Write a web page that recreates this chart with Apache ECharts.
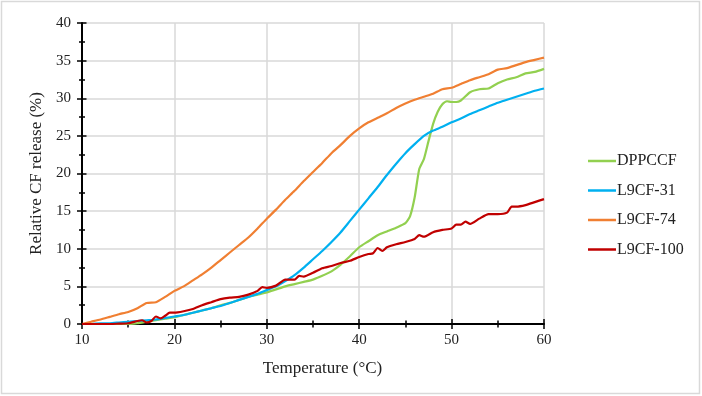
<!DOCTYPE html>
<html lang="en">
<head>
	<meta charset="UTF-8">
	<title>CF release</title>
	<script src="https://cdn.jsdelivr.net/npm/echarts@6/dist/echarts.min.js"></script>
	<style>
		html,body{width:100%;height:100%;margin:0;background:#fff;}
		#chart{width:702px;height:396px;}
	</style>
</head>
<body>
	<div id="chart"></div>
<script>
	// temperature grid shared by L9CF-31 and L9CF-74 (1 °C steps)
	var temps = [10,11,12,13,14,15,16,17,18,19,20,21,22,23,24,25,26,27,28,29,30,31,32,33,34,35,36,37,38,39,40,
		41,42,43,44,45,46,47,48,49,50,51,52,53,54,55,56,57,58,59,60];
	var l9cf74 = [0,0.3,0.6,0.95,1.3,1.6,2.1,2.8,2.9,3.6,4.4,5.0,5.8,6.6,7.5,8.5,9.5,10.5,11.5,12.7,14.0,
		15.2,16.5,17.7,19.0,20.2,21.4,22.7,23.8,25.0,26.0,26.8,27.4,28.0,28.7,29.3,29.8,30.2,30.6,31.2,31.4,
		31.9,32.4,32.8,33.2,33.8,34.0,34.4,34.8,35.1,35.4];
	var l9cf31 = [0,0,0.1,0.1,0.2,0.3,0.4,0.5,0.6,0.8,1.0,1.2,1.5,1.8,2.1,2.4,2.8,3.2,3.6,4.0,4.5,
		5.0,5.7,6.5,7.5,8.6,9.7,10.9,12.2,13.7,15.2,16.7,18.2,19.8,21.3,22.7,23.9,25.0,25.7,26.2,26.8,
		27.3,27.9,28.4,28.9,29.4,29.8,30.2,30.6,31.0,31.3];

	// DPPCCF has a sharp jump near 46 °C, so it is read at finer steps there
	var dppTemps = [10,11,12,13,14,15,16,17,18,19,20,21,22,23,24,25,26,27,28,29,30,31,32,33,34,35,36,37,38,39,40,
		41,42,43,44,45,45.5,46,46.5,47,47.5,48,48.5,49,49.5,50,50.5,51,52,53,54,55,56,57,58,59,60];
	var dppccf = [0,0,0,0,0,0,0.1,0.3,0.5,0.7,0.9,1.2,1.5,1.8,2.1,2.5,2.8,3.2,3.6,3.9,4.2,
		4.6,5.0,5.3,5.6,5.9,6.4,7.0,7.9,9.0,10.2,11.0,11.8,12.3,12.8,13.4,14.3,16.8,20.6,21.9,24.3,
		26.6,28.2,29.2,29.6,29.5,29.5,29.7,30.8,31.2,31.3,32.0,32.5,32.8,33.3,33.5,33.9];

	var l100Temps = [10,11,12,13,14,15,16,16.5,17,17.5,18,18.5,19,19.5,20,21,22,23,24,25,26,27,28,29,29.5,30,
		31,32,33,33.5,34,35,36,37,38,39,40,41,41.5,42,42.5,43,44,45,46,46.5,47,48,49,50,50.5,51,51.5,52,
		53,54,55,56,56.5,57,58,59,60];
	var l9cf100 = [0,0,0,0,0.05,0.1,0.4,0.5,0.2,0.4,1.0,0.75,1.1,1.5,1.5,1.7,2.0,2.5,2.9,3.3,3.5,3.6,3.9,4.4,4.9,4.8,
		5.1,5.9,5.9,6.4,6.3,6.8,7.4,7.7,8.1,8.4,8.9,9.3,9.4,10.1,9.7,10.2,10.6,10.9,11.3,11.8,11.6,12.2,12.5,12.7,13.2,13.2,13.6,13.3,
		14.0,14.6,14.6,14.8,15.6,15.6,15.8,16.2,16.6];

	var seriesNames = ['DPPCCF', 'L9CF-31', 'L9CF-74', 'L9CF-100'];
	var seriesColors = ['#92d050', '#00b0f0', '#f07f32', '#c00000'];

	function pairs(xs, ys) {
		var out = [];
		for (var i = 0; i < xs.length; i++) {
			out.push([xs[i], ys[i]]);
		}
		return out;
	}

	var seriesData = [pairs(dppTemps, dppccf), pairs(temps, l9cf31), pairs(temps, l9cf74), pairs(l100Temps, l9cf100)];

	var font = 'Liberation Serif';
	var seriesArr = [];
	for (var i = 0; i < seriesNames.length; i++) {
		seriesArr.push({
			name: seriesNames[i],
			type: 'line',
			data: seriesData[i],
			showSymbol: false,
			symbol: 'none',
			smooth: 0.2,
			lineStyle: { color: seriesColors[i], width: 2.2 },
			itemStyle: { color: seriesColors[i] },
			animation: false
		});
	}

	var myChart = echarts.init(document.getElementById('chart'));
	var options = {
		backgroundColor: '#fff',
		animation: false,
		textStyle: { fontFamily: font, color: '#222' },
		graphic: [{
			type: 'rect',
			shape: { x: 1.5, y: 1.5, width: 698, height: 392 },
			style: { fill: 'none', stroke: '#d9d9d9', lineWidth: 1.5 },
			silent: true
		}],
		grid: { left: 82, right: 158, top: 23, bottom: 72 },
		legend: {
			orient: 'vertical',
			left: 583,
			top: 148,
			itemWidth: 28,
			itemHeight: 14,
			itemGap: 13.5,
			icon: 'path://M0,6 L28,6 L28,8.5 L0,8.5 Z',
			textStyle: { fontFamily: font, fontSize: 16, color: '#222', padding: [0, 0, 0, -4] },
			data: seriesNames
		},
		xAxis: [{
			type: 'value',
			min: 10,
			max: 60,
			interval: 10,
			name: 'Temperature (°C)',
			nameLocation: 'middle',
			nameGap: 36,
			nameTextStyle: { fontFamily: font, fontSize: 17, color: '#222', padding: [0, 0, 0, 19] },
			axisLine: { lineStyle: { color: '#000', width: 2 } },
			axisTick: { show: true, length: 5, lineStyle: { color: '#000', width: 1.5 } },
			minorTick: { show: true, splitNumber: 2, length: 3.5, lineStyle: { color: '#000', width: 1.5 } },
			axisLabel: { fontFamily: font, fontSize: 15, color: '#222', margin: 9 },
			splitLine: { show: true, lineStyle: { color: '#d9d9d9', width: 1.5 } }
		}, {
			// second x axis only to make the ticks cross the axis line
			type: 'value',
			position: 'bottom',
			min: 10,
			max: 60,
			interval: 10,
			axisLine: { show: false },
			axisTick: { show: true, inside: true, length: 5, lineStyle: { color: '#000', width: 1.5 } },
			minorTick: { show: true, splitNumber: 2, length: 3.5, lineStyle: { color: '#000', width: 1.5 } },
			axisLabel: { show: false },
			splitLine: { show: false }
		}],
		yAxis: [{
			type: 'value',
			min: 0,
			max: 40,
			interval: 5,
			name: 'Relative CF release (%)',
			nameLocation: 'middle',
			nameGap: 33,
			nameTextStyle: { fontFamily: font, fontSize: 17, color: '#222' },
			axisLine: { show: true, lineStyle: { color: '#000', width: 2 } },
			axisTick: { show: true, length: 5, lineStyle: { color: '#000', width: 1.5 } },
			minorTick: { show: true, splitNumber: 2, length: 3, lineStyle: { color: '#000', width: 1.5 } },
			axisLabel: { fontFamily: font, fontSize: 15, color: '#222', margin: 11 },
			splitLine: { show: true, lineStyle: { color: '#d9d9d9', width: 1.5 } }
		}, {
			type: 'value',
			position: 'left',
			min: 0,
			max: 40,
			interval: 5,
			axisLine: { show: false },
			axisTick: { show: true, inside: true, length: 4.5, lineStyle: { color: '#000', width: 1.5 } },
			minorTick: { show: true, splitNumber: 2, length: 3, lineStyle: { color: '#000', width: 1.5 } },
			axisLabel: { show: false },
			splitLine: { show: false }
		}],
		series: seriesArr
	};
	myChart.setOption(options);
</script>
</body>
</html>
